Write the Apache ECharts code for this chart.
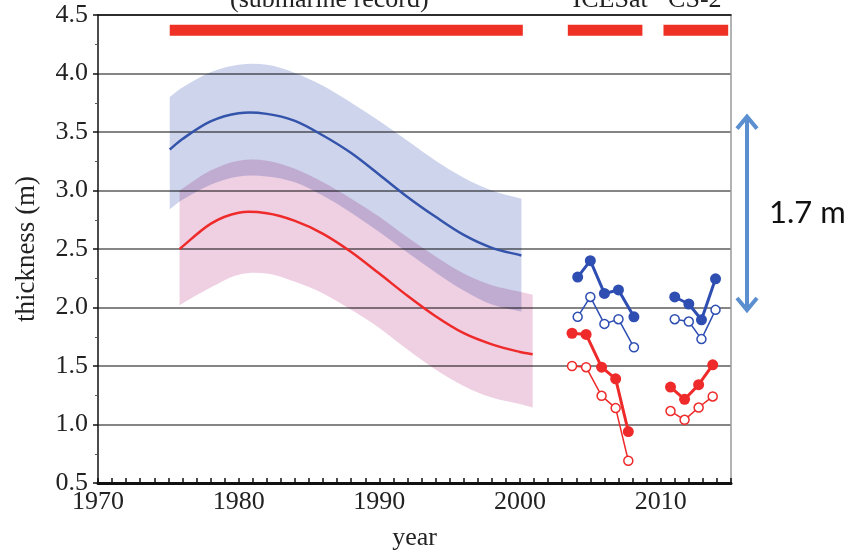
<!DOCTYPE html>
<html><head><meta charset="utf-8">
<script src="https://cdn.jsdelivr.net/npm/echarts@6/dist/echarts.min.js"></script>
<style>html,body{margin:0;padding:0;background:#fff}#c{width:852px;height:556px}</style>
</head><body><div id="c"></div>
<script>
// ---- submarine-record fits (winter = blue, autumn = red) ----
const winterYears = [1975.1, 1976, 1978, 1980, 1982, 1984, 1986, 1988, 1990, 1992, 1994, 1996, 1998, 2000.1];
const winterMean  = [3.35, 3.44, 3.59, 3.66, 3.655, 3.595, 3.47, 3.32, 3.135, 2.945, 2.775, 2.62, 2.51, 2.445];
const winterUpper = [3.80, 3.88, 4.01, 4.075, 4.075, 4.005, 3.895, 3.75, 3.595, 3.425, 3.255, 3.11, 3.00, 2.93];
const winterLower = [2.84, 2.92, 3.05, 3.12, 3.12, 3.07, 2.955, 2.81, 2.645, 2.47, 2.30, 2.145, 2.025, 1.965];

const autumnYears = [1975.8, 1978, 1980, 1982, 1984, 1986, 1988, 1990, 1992, 1994, 1996, 1998, 2000, 2000.9];
const autumnMean  = [2.50, 2.715, 2.81, 2.805, 2.74, 2.63, 2.475, 2.29, 2.10, 1.925, 1.78, 1.685, 1.62, 1.60];
const autumnUpper = [3.00, 3.17, 3.255, 3.255, 3.185, 3.07, 2.93, 2.775, 2.60, 2.435, 2.29, 2.19, 2.135, 2.11];
const autumnLower = [2.02, 2.17, 2.28, 2.29, 2.22, 2.12, 1.98, 1.825, 1.64, 1.47, 1.33, 1.23, 1.175, 1.145];

// ---- ICESat ----
const icesatWinterYears  = [2004.1, 2005.0, 2006.0, 2007.0, 2008.1];
const icesatWinterFilled = [2.26, 2.40, 2.12, 2.15, 1.92];
const icesatWinterOpen   = [1.92, 2.09, 1.86, 1.90, 1.66];
const icesatAutumnYears  = [2003.7, 2004.7, 2005.8, 2006.8, 2007.7];
const icesatAutumnFilled = [1.78, 1.77, 1.49, 1.39, 0.94];
const icesatAutumnOpen   = [1.50, 1.49, 1.245, 1.14, 0.69];

// ---- CryoSat-2 ----
const cs2WinterYears  = [2011.0, 2012.0, 2012.9, 2013.9];
const cs2WinterFilled = [2.09, 2.03, 1.895, 2.245];
const cs2WinterOpen   = [1.90, 1.88, 1.73, 1.98];
const cs2AutumnYears  = [2010.7, 2011.7, 2012.7, 2013.7];
const cs2AutumnFilled = [1.32, 1.215, 1.34, 1.51];
const cs2AutumnOpen   = [1.115, 1.04, 1.145, 1.24];

// ---- record periods (top bars) ----
const periodNames  = ['(submarine record)', 'ICESat', 'CS-2'];
const periodStarts = [1975.1, 2003.4, 2010.2];
const periodEnds   = [2000.2, 2008.7, 2014.8];
const periodLevel  = 4.37;

// ---- annotation ----
const arrowValues = [3.64, 1.97];
const arrowText = '1.7 m';

// ---- axis ----
const xMin = 1970, xMax = 2015;
const yMin = 0.5, yMax = 4.5, yStep = 0.5;

// ---------------------------------------------------------------
const BLUE = '#3453aa', RED = '#ee2a2a', PT_BLUE = '#2e4eb2', BAR_RED = '#ee3124';
const SERIF = '"Liberation Serif","Times New Roman",serif';
const pair = (xs, ys) => xs.map((x, i) => [x, ys[i]]);

// smooth cubic Hermite (function of x) through pixel points
function tangent(p, i) {
  const a = p[Math.max(i - 1, 0)], b = p[Math.min(i + 1, p.length - 1)];
  const dx = b[0] - a[0];
  return dx === 0 ? [1, 0] : [1, (b[1] - a[1]) / dx];
}
function curvePath(p, start) {
  let d = (start ? 'M' : 'L') + p[0][0] + ',' + p[0][1];
  for (let i = 0; i < p.length - 1; i++) {
    const h = (p[i + 1][0] - p[i][0]) / 3;
    const t1 = tangent(p, i), t2 = tangent(p, i + 1);
    d += 'C' + (p[i][0] + h) + ',' + (p[i][1] + t1[1] * h) + ',' +
         (p[i + 1][0] - h) + ',' + (p[i + 1][1] - t2[1] * h) + ',' +
         p[i + 1][0] + ',' + p[i + 1][1];
  }
  return d;
}
function bandSeries(xs, up, lo, color, z) {
  return {type: 'custom', coordinateSystem: 'cartesian2d', data: [[xs[0], up[0]]], z: z, silent: true,
    blendMode: 'multiply',
    renderItem: (params, api) => {
      const U = xs.map((x, i) => api.coord([x, up[i]]));
      const L = xs.map((x, i) => api.coord([x, lo[i]])).reverse();
      return {type: 'path', shape: {pathData: curvePath(U, true) + curvePath(L, false) + 'Z'},
        style: {fill: color}};
    }};
}
function curveSeries(xs, ys, color, width) {
  return {type: 'custom', coordinateSystem: 'cartesian2d', data: [[xs[0], ys[0]]], z: 3, silent: true,
    renderItem: (params, api) => {
      const P = xs.map((x, i) => api.coord([x, ys[i]]));
      return {type: 'path', shape: {pathData: curvePath(P, true)},
        style: {fill: null, stroke: color, lineWidth: width, lineCap: 'butt'}};
    }};
}
function pts(xs, ys, color, filled) {
  return {type: 'line', data: pair(xs, ys), symbol: 'circle', z: 5,
    symbolSize: filled ? 11 : 9,
    itemStyle: filled ? {color: color} : {color: '#fff', borderColor: color, borderWidth: 1.5},
    lineStyle: {color: color, width: filled ? 3 : 1.5}};
}

const series = [
  bandSeries(winterYears, winterUpper, winterLower, '#cdd4ec', 1),
  bandSeries(autumnYears, autumnUpper, autumnLower, '#efcfe2', 1),
  curveSeries(winterYears, winterMean, BLUE, 2.5),
  curveSeries(autumnYears, autumnMean, RED, 2.5),
  pts(icesatWinterYears, icesatWinterOpen, PT_BLUE, false),
  pts(icesatWinterYears, icesatWinterFilled, PT_BLUE, true),
  pts(icesatAutumnYears, icesatAutumnOpen, RED, false),
  pts(icesatAutumnYears, icesatAutumnFilled, RED, true),
  pts(cs2WinterYears, cs2WinterOpen, PT_BLUE, false),
  pts(cs2WinterYears, cs2WinterFilled, PT_BLUE, true),
  pts(cs2AutumnYears, cs2AutumnOpen, RED, false),
  pts(cs2AutumnYears, cs2AutumnFilled, RED, true)
].concat(periodStarts.map((s, i) => ({type: 'line', symbol: 'none', z: 4,
    data: [[s, periodLevel], [periodEnds[i], periodLevel]],
    lineStyle: {color: BAR_RED, width: 11, cap: 'butt'}})));

const chart = echarts.init(document.getElementById('c'), null, {renderer: 'canvas'});
chart.setOption({
  animation: false,
  backgroundColor: '#fff',
  grid: {left: 98, right: 121, top: 15, bottom: 70},
  xAxis: [
    {type: 'value', min: xMin, max: xMax, interval: 1,
     name: 'year', nameLocation: 'middle', nameGap: 42,
     nameTextStyle: {fontFamily: SERIF, fontSize: 26, color: '#222'},
     axisLine: {lineStyle: {color: '#111', width: 3}},
     axisTick: {inside: true, length: 5, lineStyle: {color: '#111', width: 1.5}},
     axisLabel: {fontFamily: SERIF, fontSize: 26, color: '#222', margin: 6,
       formatter: v => (v % 10 === 0 && v < xMax) ? String(v) : ''},
     splitLine: {show: false}},
    {type: 'value', position: 'top', min: xMin, max: xMax,
     axisLine: {lineStyle: {color: '#111', width: 1.5}},
     axisTick: {show: false}, axisLabel: {show: false}, splitLine: {show: false}}
  ],
  yAxis: [
    {type: 'value', min: yMin, max: yMax, interval: yStep,
     name: 'thickness (m)', nameLocation: 'middle', nameGap: 58,
     nameTextStyle: {fontFamily: SERIF, fontSize: 27, color: '#222'},
     axisLine: {lineStyle: {color: '#111', width: 1.5}},
     axisTick: {length: 5, lineStyle: {color: '#111', width: 1.5}},
     minorTick: {show: true, splitNumber: 2, length: 3, lineStyle: {color: '#555'}},
     axisLabel: {fontFamily: SERIF, fontSize: 26, color: '#222', margin: 10,
       formatter: v => v.toFixed(1)},
     splitLine: {show: true, lineStyle: {color: '#858585', width: 2}}},
    {type: 'value', position: 'right', min: yMin, max: yMax,
     axisLine: {show: true, lineStyle: {color: '#9a9a9a', width: 1.5}},
     axisTick: {show: false}, axisLabel: {show: false}, splitLine: {show: false}}
  ],
  series: series
});

// annotations placed through the chart's own scales
const labelYears = periodStarts.map((s, i) => (s + periodEnds[i]) / 2);
const labelShift = [-17, 5, -1];
const g = [];
periodNames.forEach((t, i) => {
  const x = chart.convertToPixel({xAxisIndex: 0}, labelYears[i]) + labelShift[i];
  g.push({type: 'text', x: x, y: 13, z: 10,
    style: {text: t, font: '26px ' + SERIF, fill: '#222', align: 'center', verticalAlign: 'bottom'}});
});
const yTop = chart.convertToPixel({yAxisIndex: 0}, arrowValues[0]);
const yBot = chart.convertToPixel({yAxisIndex: 0}, arrowValues[1]);
const ax = chart.convertToPixel({xAxisIndex: 0}, xMax) + 16;
const AC = '#5b8fcf';
g.push({type: 'line', z: 10, shape: {x1: ax, y1: yTop + 2, x2: ax, y2: yBot - 2},
  style: {stroke: AC, lineWidth: 4}});
g.push({type: 'polyline', z: 10, shape: {points: [[ax - 10, yTop + 13], [ax, yTop + 1], [ax + 10, yTop + 13]]},
  style: {stroke: AC, lineWidth: 4, fill: null, lineJoin: 'miter'}});
g.push({type: 'polyline', z: 10, shape: {points: [[ax - 10, yBot - 13], [ax, yBot - 1], [ax + 10, yBot - 13]]},
  style: {stroke: AC, lineWidth: 4, fill: null, lineJoin: 'miter'}});
g.push({type: 'text', z: 10, x: ax + 22, y: (yTop + yBot) / 2,
  style: {text: arrowText, font: '31px Lato, "Open Sans", sans-serif', fill: '#111', align: 'left', verticalAlign: 'middle'}});
chart.setOption({graphic: g});
</script>
</body></html>
